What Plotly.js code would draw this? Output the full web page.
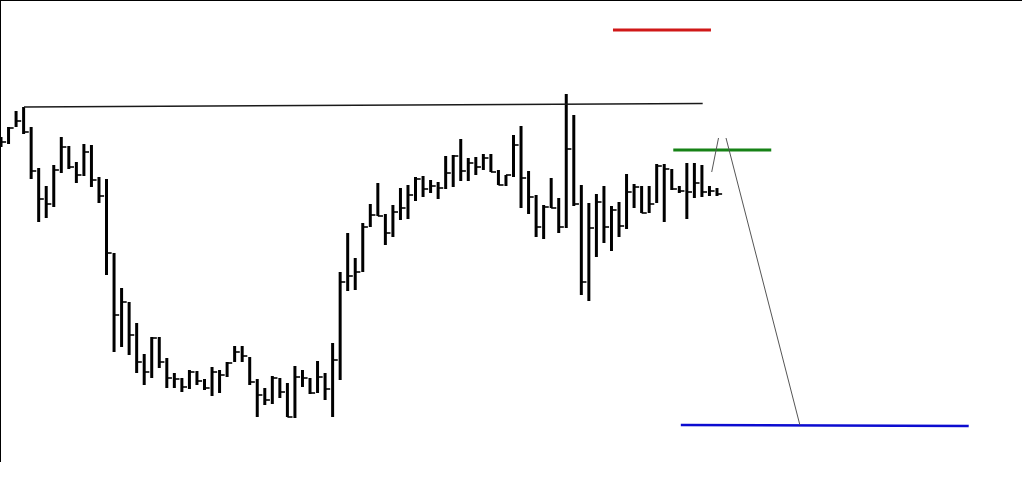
<!DOCTYPE html>
<html>
<head>
<meta charset="utf-8">
<script src="https://cdn.plot.ly/plotly-3.0.1.min.js"></script>
<style>html,body{margin:0;padding:0;background:#fff;}#chart{width:1022px;height:491px;}</style>
</head>
<body>
<div id="chart"></div>
<script>
// Bar data (arbitrary price units)
const highs = [325,335,351,355,335,294,276,297,325,316,300,318,317,285,283,209,174,160,139,108,
  125,125,104,89,84,92,91,83,95,92,100,116,116,105,83,74,86,84,79,96,
  92,84,101,89,119,190,229,204,239,258,279,248,257,274,277,285,286,282,280,306,
  307,323,304,305,308,308,292,287,327,336,291,267,257,284,264,368,347,277,259,268,
  276,256,260,288,278,276,276,298,298,293,276,299,299,297,276,274];
const lows = [315,318,335,328,283,240,244,255,289,293,279,286,275,259,187,110,115,107,89,77,
  84,94,74,74,70,73,77,72,66,69,85,100,100,77,45,57,58,64,45,44,
  75,68,69,62,45,82,171,172,190,235,246,217,225,242,243,261,265,269,263,273,
  275,281,281,287,292,290,277,276,285,254,248,225,223,254,229,234,256,167,161,205,
  219,211,225,233,254,249,249,259,240,272,269,243,264,265,266,266];
const closes = [320,334,341,330,291,263,258,292,315,295,287,310,282,266,209,147,160,127,100,90,
  124,100,84,83,75,90,81,74,90,87,99,110,106,80,67,62,84,70,45,85,
  84,69,85,73,102,180,186,190,235,247,246,229,250,254,267,283,273,276,274,289,
  306,291,299,295,304,290,277,287,317,284,265,235,255,254,235,313,258,180,234,260,
  235,252,236,270,275,249,258,296,293,273,271,270,279,270,271,268];

// Drawn lines: start/end bar index and price
const lineNames = ['resistance','red level','green level','blue level','trend up','trend down'];
const lineX0 = [3.05, 81.2, 89.2, 90.2, 94.3, 96.2];
const lineX1 = [93.1, 94.2, 102.2, 128.4, 95.2, 106.0];
const lineY0 = [355, 432, 312, 37, 290, 324];
const lineY1 = [358.5, 432, 312, 36, 324, 37];
const lineColors = ['#1a1a1a','#d01818','#168216','#0c0cd0','#555555','#555555'];
const lineWidths = [1.6, 3, 3, 2.5, 1, 1];

const bx = [], by = [], cx = [], cy = [];
for (let i = 0; i < highs.length; i++) {
  bx.push(i, i, null); by.push(lows[i], highs[i], null);
  cx.push(i, i + 0.68, null); cy.push(closes[i], closes[i], null);
}
const traces = [
  {type:'scatter', mode:'lines', x:bx, y:by, line:{color:'#000', width:3}, hoverinfo:'skip', showlegend:false},
  {type:'scatter', mode:'lines', x:cx, y:cy, line:{color:'#000', width:1.6}, hoverinfo:'skip', showlegend:false}
];
for (let k = 0; k < lineNames.length; k++) {
  traces.push({type:'scatter', mode:'lines', name:lineNames[k], x:[lineX0[k], lineX1[k]], y:[lineY0[k], lineY1[k]],
    line:{color:lineColors[k], width:lineWidths[k]}, hoverinfo:'skip', showlegend:false});
}
const layout = {
  width:1022, height:491,
  margin:{l:1, r:0, t:1, b:29, pad:0},
  paper_bgcolor:'#fff', plot_bgcolor:'#fff',
  showlegend:false,
  xaxis:{range:[0, 135.47], side:'top', showline:true, linecolor:'#000', linewidth:1.5, showgrid:false, zeroline:false, showticklabels:false, ticks:''},
  yaxis:{range:[0, 461], showline:true, linecolor:'#000', linewidth:1.5, showgrid:false, zeroline:false, showticklabels:false, ticks:''}
};
Plotly.newPlot('chart', traces, layout, {staticPlot:true, displayModeBar:false});
</script>
</body>
</html>
